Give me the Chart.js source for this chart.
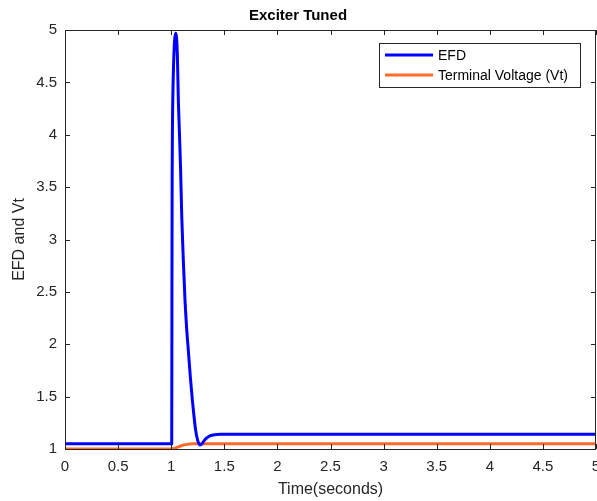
<!DOCTYPE html>
<html>
<head>
<meta charset="utf-8">
<script src="https://cdn.jsdelivr.net/npm/chart.js@4.4.0/dist/chart.umd.min.js"></script>
<style>
  html, body { margin: 0; padding: 0; background: #fff; }
  #wrap { width: 597px; height: 501px; }
</style>
</head>
<body>
<div id="wrap"><canvas id="myChart" width="597" height="501"></canvas></div>
<script>
// data
var efdTime = [0, 1.005, 1.007, 1.009, 1.012, 1.017, 1.024, 1.032, 1.042, 1.05, 1.058, 1.068, 1.078, 1.088, 1.10, 1.115, 1.13, 1.145, 1.161, 1.18, 1.199, 1.215, 1.23, 1.25, 1.271, 1.29, 1.31, 1.34, 1.37, 1.41, 1.46, 5];
var efdValues = [1.05, 1.05, 2.5, 3.6, 4.1, 4.45, 4.72, 4.9, 4.97, 4.93, 4.76, 4.3, 4.0, 3.69, 3.2, 2.78, 2.42, 2.16, 1.945, 1.69, 1.468, 1.31, 1.18, 1.08, 1.038, 1.05, 1.08, 1.11, 1.127, 1.136, 1.14, 1.14];
var vtTime = [0, 1.0, 1.03, 1.06, 1.1, 1.15, 1.2, 1.3, 5];
var vtValues = [1.0, 1.0, 1.005, 1.017, 1.033, 1.044, 1.049, 1.05, 1.05];
var seriesNames = ['EFD', 'Terminal Voltage (Vt)'];
var seriesColors = ['#0000ff', '#ff6a2a'];
var xTicks = [0, 0.5, 1, 1.5, 2, 2.5, 3, 3.5, 4, 4.5, 5];
var yTicks = [1, 1.5, 2, 2.5, 3, 3.5, 4, 4.5, 5];

var axisColor = '#262626';
var fontName = "'Liberation Sans', Arial, sans-serif";

function toPoints(xs, ys) {
  var pts = [];
  for (var i = 0; i < xs.length; i++) pts.push({x: xs[i], y: ys[i]});
  return pts;
}

// box round the plot, inward ticks and the legend box
var matlabAxes = {
  id: 'matlabAxes',
  afterDatasetsDraw: function(chart) {
    var ctx = chart.ctx;
    var a = chart.chartArea;
    var xs = chart.scales.x, ys = chart.scales.y;
    ctx.save();
    ctx.strokeStyle = axisColor;
    ctx.lineWidth = 1;
    ctx.strokeRect(Math.round(a.left) + 0.5, Math.round(a.top) + 0.5, Math.round(a.right - a.left) - 1, Math.round(a.bottom - a.top));
    ctx.beginPath();
    xTicks.forEach(function(v) {
      var px = Math.round(xs.getPixelForValue(v)) + 0.5;
      ctx.moveTo(px, a.bottom); ctx.lineTo(px, a.bottom - 5);
      ctx.moveTo(px, a.top); ctx.lineTo(px, a.top + 5);
    });
    yTicks.forEach(function(v) {
      var py = Math.round(ys.getPixelForValue(v)) + 0.5;
      ctx.moveTo(a.left, py); ctx.lineTo(a.left + 5, py);
      ctx.moveTo(a.right, py); ctx.lineTo(a.right - 5, py);
    });
    ctx.stroke();

    // legend
    var bx = 379.5, by = 43.5, bw = 201, bh = 44;
    ctx.fillStyle = '#fff';
    ctx.fillRect(bx, by, bw, bh);
    ctx.strokeRect(bx, by, bw, bh);
    ctx.font = '14px ' + fontName;
    ctx.textBaseline = 'middle';
    chart.data.datasets.forEach(function(ds, i) {
      var ly = 55 + i * 20;
      ctx.strokeStyle = ds.borderColor;
      ctx.lineWidth = 3;
      ctx.beginPath();
      ctx.moveTo(385, ly); ctx.lineTo(433, ly);
      ctx.stroke();
      ctx.fillStyle = '#000';
      ctx.fillText(ds.label, 438, ly + 1);
    });
    ctx.restore();
  }
};

function plainNum(v) { return String(v); }

var ctx = document.getElementById('myChart').getContext('2d');
var myChart = new Chart(ctx, {
  type: 'line',
  data: {
    datasets: [{
      label: seriesNames[0],
      data: toPoints(efdTime, efdValues),
      borderColor: seriesColors[0],
      borderWidth: 3,
      pointRadius: 0,
      cubicInterpolationMode: 'monotone',
      borderJoinStyle: 'round'
    }, {
      label: seriesNames[1],
      data: toPoints(vtTime, vtValues),
      borderColor: seriesColors[1],
      borderWidth: 3,
      pointRadius: 0,
      cubicInterpolationMode: 'monotone',
      borderJoinStyle: 'round'
    }]
  },
  options: {
    responsive: false,
    animation: false,
    layout: { padding: { left: 0, right: 1, top: 0, bottom: 0 } },
    plugins: {
      legend: { display: false },
      tooltip: { enabled: false },
      title: {
        display: true,
        text: 'Exciter Tuned',
        color: '#000',
        font: { family: fontName, size: 15, weight: 'bold' },
        padding: { top: 7, bottom: 5 }
      }
    },
    scales: {
      x: {
        type: 'linear',
        min: 0,
        max: 5,
        afterBuildTicks: function(scale) { scale.ticks = xTicks.map(function(v) { return {value: v}; }); },
        afterFit: function(scale) { scale.height = 52; scale.paddingLeft = 0; scale.paddingRight = 0; },
        ticks: { color: axisColor, font: { family: fontName, size: 15 }, padding: 1, maxRotation: 0, autoSkip: false, callback: plainNum },
        grid: { display: false },
        border: { display: false },
        title: { display: true, text: 'Time(seconds)', color: axisColor, font: { family: fontName, size: 16 }, padding: { top: 0, bottom: 2 } }
      },
      y: {
        type: 'linear',
        min: 1,
        max: 5,
        afterBuildTicks: function(scale) { scale.ticks = yTicks.map(function(v) { return {value: v}; }); },
        afterFit: function(scale) { scale.width = 65; scale.paddingTop = 0; scale.paddingBottom = 0; },
        ticks: { color: axisColor, font: { family: fontName, size: 15 }, padding: 0, callback: plainNum },
        grid: { display: false },
        border: { display: false },
        title: { display: true, text: 'EFD and Vt', color: axisColor, font: { family: fontName, size: 16 }, padding: { top: 10, bottom: 0 } }
      }
    }
  },
  plugins: [matlabAxes]
});
</script>
</body>
</html>
